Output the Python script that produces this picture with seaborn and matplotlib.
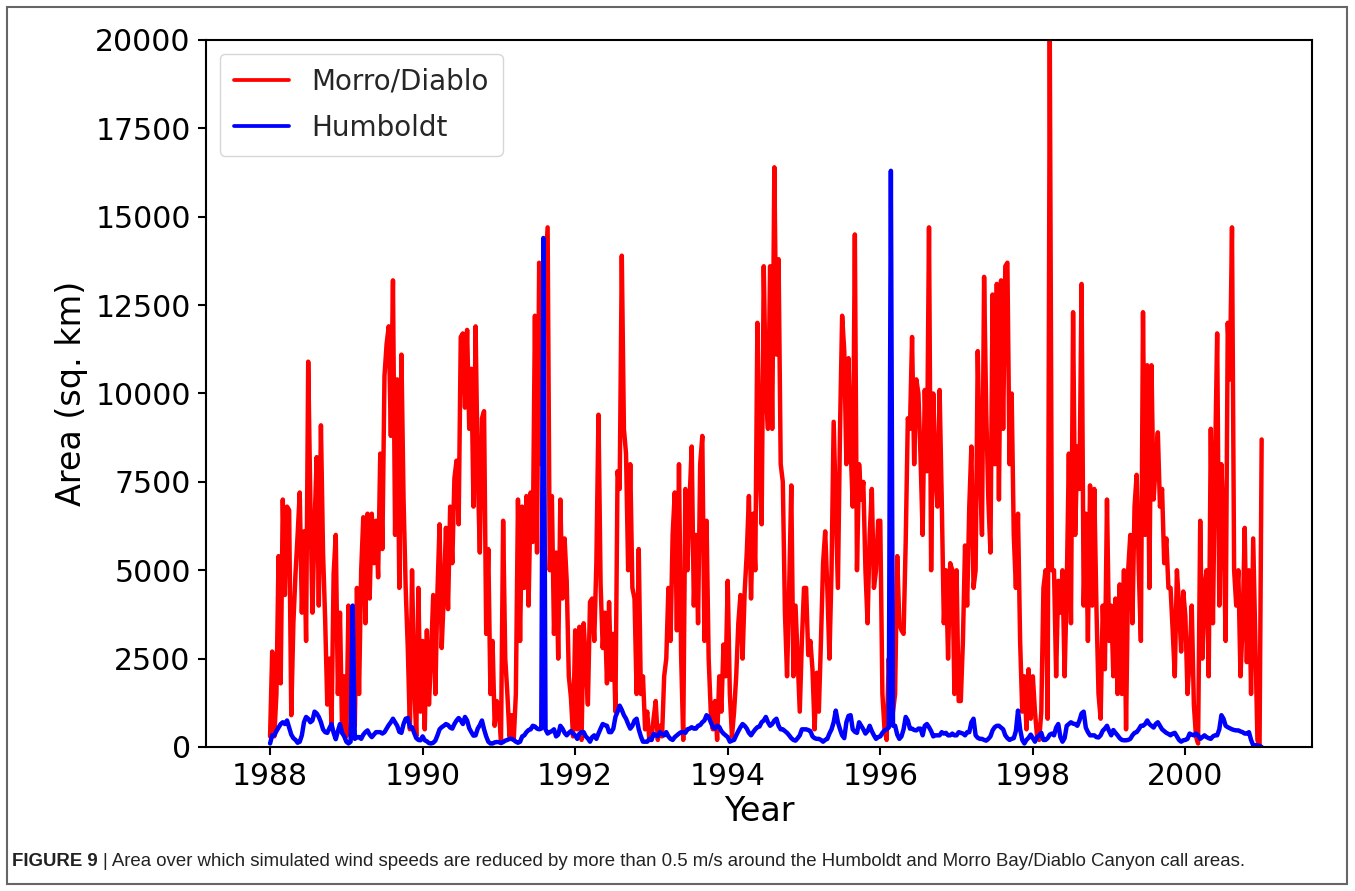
import numpy as np
import pandas as pd
import seaborn as sns
import matplotlib.pyplot as plt
from matplotlib.patches import Rectangle

# Area (sq. km) with wind speed reduced by > 0.5 m/s, sampled every 1/36 year
years = list(range(1988, 2002))

morro_1988 = [300, 2700, 300, 1500, 5400, 1800, 7000, 4300, 6800, 6700, 900, 3500, 4900, 6000, 7200, 3800, 6100, 3000,
              10900, 7000, 3800, 6300, 8200, 4000, 9100, 5500, 3600, 1200, 2500, 600, 4900, 6000, 1500, 3800, 400, 2000]
morro_1989 = [300, 4000, 1200, 3900, 600, 4500, 1500, 5000, 6500, 3500, 6600, 4200, 6600, 5200, 6400, 4800, 8300, 5600,
              10500, 11400, 11900, 8800, 13200, 6000, 10400, 4500, 11100, 7000, 4500, 2800, 500, 5000, 1800, 300, 4500, 1000]
morro_1990 = [3000, 500, 3300, 1200, 2600, 4300, 1500, 4400, 6300, 2800, 4300, 6200, 3900, 6800, 5200, 7600, 8100, 6300,
              11600, 11700, 9600, 11800, 9000, 10700, 6800, 11900, 7800, 5500, 9300, 9500, 3200, 5600, 1500, 3000, 600, 1300]
morro_1991 = [1000, 200, 6400, 2500, 1500, 300, 900, 200, 1500, 7000, 3000, 6800, 4500, 7100, 4000, 7200, 5800, 12200,
              5500, 13700, 8000, 12500, 13600, 14700, 5000, 7100, 3200, 5500, 2500, 7000, 4200, 5900, 4700, 2000, 1400, 300]
morro_1992 = [3300, 500, 3400, 200, 3500, 2400, 1200, 4100, 4200, 3000, 5200, 9400, 4600, 2800, 3800, 1800, 4100, 1900,
              3200, 1000, 7800, 7300, 13900, 9000, 8300, 5000, 8000, 4500, 4200, 1500, 5600, 1500, 2000, 500, 1000, 200]
morro_1993 = [200, 800, 1300, 200, 600, 300, 2000, 2500, 4500, 3000, 6000, 7200, 3300, 8000, 2600, 200, 7300, 5000,
              7000, 8500, 4000, 6000, 3500, 8000, 8800, 3000, 6400, 2500, 1000, 500, 1300, 200, 2000, 1000, 2900, 2000]
morro_1994 = [4700, 1500, 300, 1000, 2000, 3500, 4300, 2500, 4400, 5500, 7100, 4200, 6600, 5000, 12000, 8000, 6300, 13600,
              10000, 9000, 13600, 9000, 16400, 11100, 13800, 8000, 7500, 3800, 2000, 4500, 7400, 2000, 4000, 2500, 1000, 3000]
morro_1995 = [4500, 4500, 2600, 3000, 2200, 500, 2100, 1000, 3000, 5200, 6100, 4500, 2500, 5000, 9200, 6800, 4500, 9000,
              12200, 11200, 8000, 11000, 8500, 6800, 14500, 5000, 8000, 7000, 7500, 5000, 3500, 6000, 7300, 4500, 5000, 6400]
morro_1996 = [6400, 1500, 500, 200, 2500, 800, 1000, 1500, 5400, 3500, 3300, 3200, 5800, 9300, 9000, 11600, 8000, 10400,
              10000, 8200, 6000, 10100, 7800, 14700, 5000, 10000, 7800, 6800, 10100, 7000, 3500, 5000, 2500, 5200, 5000, 1500]
morro_1997 = [5000, 1300, 1300, 3000, 5700, 4000, 6800, 8500, 4500, 5000, 11200, 8000, 6000, 13300, 9500, 7000, 5500, 12800,
              8000, 13100, 7000, 13200, 9000, 13600, 13700, 8000, 10000, 6000, 4500, 6600, 3000, 1000, 2000, 500, 2200, 800]
morro_1998 = [2000, 1000, 300, 200, 1000, 4500, 5000, 800, 20000, 5000, 5000, 2000, 4700, 3800, 5000, 2000, 4500, 8300,
              3500, 12300, 6000, 8500, 7300, 13100, 4000, 6600, 3000, 7400, 4000, 7300, 4000, 1500, 800, 4000, 2200, 7000]
morro_1999 = [3000, 4000, 2000, 4200, 1500, 4600, 1500, 5000, 500, 5000, 6000, 3500, 6800, 7700, 5000, 3000, 12300, 6000,
              10800, 4500, 10800, 7000, 8000, 8900, 6800, 7300, 5200, 5900, 4500, 4500, 3300, 2000, 5000, 4000, 2700, 4400]
morro_2000 = [3700, 1500, 2500, 4000, 1200, 300, 100, 6400, 2500, 4500, 5000, 2000, 9000, 3500, 8000, 11700, 4000, 8000,
              6200, 3000, 12000, 10400, 14700, 5000, 4000, 5000, 2000, 3400, 6200, 2400, 5000, 1500, 5900, 3000, 200, 0]
morro_2001 = [8700]

humb_1988 = [100, 330, 330, 450, 550, 650, 700, 650, 750, 550, 350, 250, 200, 120, 150, 330, 700, 850,
             800, 700, 750, 1000, 950, 850, 700, 500, 420, 400, 530, 650, 400, 220, 450, 650, 400, 300]
humb_1989 = [150, 100, 150, 4000, 230, 280, 280, 230, 350, 420, 470, 350, 280, 350, 420, 420, 420, 380,
             420, 520, 620, 700, 800, 700, 600, 430, 400, 650, 800, 820, 560, 560, 400, 250, 200, 190]
humb_1990 = [300, 190, 160, 110, 100, 120, 180, 330, 500, 560, 600, 650, 620, 550, 520, 650, 750, 820,
             750, 650, 850, 750, 530, 420, 320, 330, 520, 620, 750, 500, 300, 150, 100, 100, 130, 140]
humb_1991 = [140, 110, 140, 180, 200, 230, 230, 200, 150, 120, 150, 300, 330, 420, 480, 500, 600, 580,
             520, 500, 520, 14400, 500, 380, 420, 450, 500, 300, 350, 600, 520, 400, 330, 400, 450, 380]
humb_1992 = [330, 230, 380, 420, 420, 300, 240, 150, 280, 330, 230, 380, 520, 650, 620, 600, 420, 420,
             520, 850, 1000, 1170, 1050, 900, 800, 650, 520, 600, 750, 800, 500, 300, 150, 150, 150, 230]
humb_1993 = [200, 370, 330, 300, 420, 370, 330, 420, 300, 230, 200, 280, 330, 380, 420, 420, 400, 500,
             520, 560, 520, 520, 600, 620, 700, 750, 900, 850, 700, 560, 520, 600, 570, 450, 380, 330]
humb_1994 = [280, 150, 180, 200, 330, 450, 560, 650, 600, 520, 400, 330, 420, 500, 560, 580, 700, 750,
             850, 700, 600, 650, 750, 800, 600, 500, 500, 450, 400, 330, 250, 200, 180, 250, 330, 500]
humb_1995 = [500, 500, 480, 450, 300, 250, 230, 230, 200, 150, 200, 230, 380, 500, 700, 1030, 700, 500,
             330, 250, 700, 880, 900, 500, 430, 400, 700, 600, 500, 380, 450, 600, 450, 330, 230, 280]
humb_1996 = [300, 400, 470, 500, 550, 16300, 600, 600, 350, 230, 300, 500, 850, 750, 520, 520, 480, 470,
             520, 520, 330, 600, 650, 560, 450, 300, 330, 330, 330, 420, 380, 400, 330, 330, 380, 330]
humb_1997 = [330, 420, 400, 380, 330, 420, 420, 700, 800, 330, 260, 230, 230, 200, 180, 230, 300, 470,
             560, 600, 600, 550, 500, 330, 250, 200, 230, 250, 450, 1030, 500, 200, 100, 200, 260, 350]
humb_1998 = [250, 150, 280, 330, 400, 200, 200, 250, 350, 380, 330, 550, 650, 280, 150, 250, 600, 650,
             700, 660, 650, 600, 750, 950, 1000, 550, 420, 330, 330, 330, 280, 270, 330, 460, 520, 600]
humb_1999 = [450, 330, 480, 400, 330, 250, 200, 190, 190, 200, 230, 330, 400, 420, 500, 600, 600, 650,
             750, 650, 600, 550, 650, 700, 600, 500, 450, 400, 370, 330, 380, 400, 300, 200, 150, 190]
humb_2000 = [200, 230, 380, 350, 330, 380, 330, 230, 280, 330, 280, 250, 230, 300, 330, 330, 500, 900,
             800, 600, 560, 530, 500, 480, 470, 470, 440, 420, 380, 380, 420, 200, 50, 50, 50, 30]
humb_2001 = [0]

morro_blocks = [morro_1988, morro_1989, morro_1990, morro_1991, morro_1992, morro_1993, morro_1994,
                morro_1995, morro_1996, morro_1997, morro_1998, morro_1999, morro_2000, morro_2001]
humb_blocks = [humb_1988, humb_1989, humb_1990, humb_1991, humb_1992, humb_1993, humb_1994,
               humb_1995, humb_1996, humb_1997, humb_1998, humb_1999, humb_2000, humb_2001]

x_ticks = [1988, 1990, 1992, 1994, 1996, 1998, 2000]
y_ticks = [0, 2500, 5000, 7500, 10000, 12500, 15000, 17500, 20000]


def to_frame(blocks):
    t, v = [], []
    for yr, vals in zip(years, blocks):
        t.extend(yr + k / 36.0 for k in range(len(vals)))
        v.extend(vals)
    return pd.DataFrame({"Year": t, "Area": v})


df_morro = to_frame(morro_blocks)
df_humb = to_frame(humb_blocks)

sns.set_theme(style="ticks")
plt.rcParams["font.family"] = ["DejaVu Sans"]

W, H = 1355, 891
fig = plt.figure(figsize=(W / 100, H / 100), dpi=100)
fig.patch.set_facecolor("white")

ax = fig.add_axes([206 / W, 1 - 747 / H, (1312 - 206) / W, 707 / H])

LW = 3.2
sns.lineplot(data=df_morro, x="Year", y="Area", color="#ff0000", linewidth=LW,
             label="Morro/Diablo", ax=ax, estimator=None, sort=False)
sns.lineplot(data=df_humb, x="Year", y="Area", color="#0000ff", linewidth=LW,
             label="Humboldt", ax=ax, estimator=None, sort=False)

ax.set_xlim(1987.16, 2001.66)
ax.set_ylim(0, 20000)
ax.set_xticks(x_ticks)
ax.set_xticklabels([str(v) for v in x_ticks])
ax.set_yticks(y_ticks)
ax.set_yticklabels([str(v) for v in y_ticks])
ax.tick_params(axis="both", labelsize=21.5, length=6, width=1.5, direction="out",
               colors="black", pad=5)
for s in ax.spines.values():
    s.set_visible(True)
    s.set_linewidth(1.5)
    s.set_color("black")

ax.set_xlabel("Year", fontsize=24, color="black", labelpad=3)
ax.set_ylabel("Area (sq. km)", fontsize=24, color="black", labelpad=5)

leg = ax.legend(loc="upper left", fontsize=20, frameon=True, fancybox=True,
                edgecolor="0.8", framealpha=0.8, handlelength=2.0,
                borderaxespad=0.5, labelspacing=0.65, borderpad=0.5)
for line in leg.get_lines():
    line.set_linewidth(2.7)

# caption below the chart
fig.canvas.draw()
renderer = fig.canvas.get_renderer()
cap_y = 1 - 862 / H
t1 = fig.text(12 / W, cap_y, "FIGURE 9", fontsize=13.4, fontweight="bold",
              family="Liberation Sans", va="center", ha="left", color="#222222")
bb = t1.get_window_extent(renderer)
t2 = fig.text((bb.x1 + 5) / W, cap_y,
              "| Area over which simulated wind speeds are reduced by more than 0.5 m/s around the "
              "Humboldt and Morro Bay/Diablo Canyon call areas.",
              fontsize=13.4, family="Liberation Sans", va="center", ha="left", color="#222222")

# outer frame around chart and caption
fig.patches.append(Rectangle((7 / W, 7 / H), (1347 - 7) / W, (884 - 7) / H,
                             transform=fig.transFigure, fill=False,
                             edgecolor="#666666", linewidth=1.5))

fig.savefig("out.png", dpi=100, facecolor="white")
